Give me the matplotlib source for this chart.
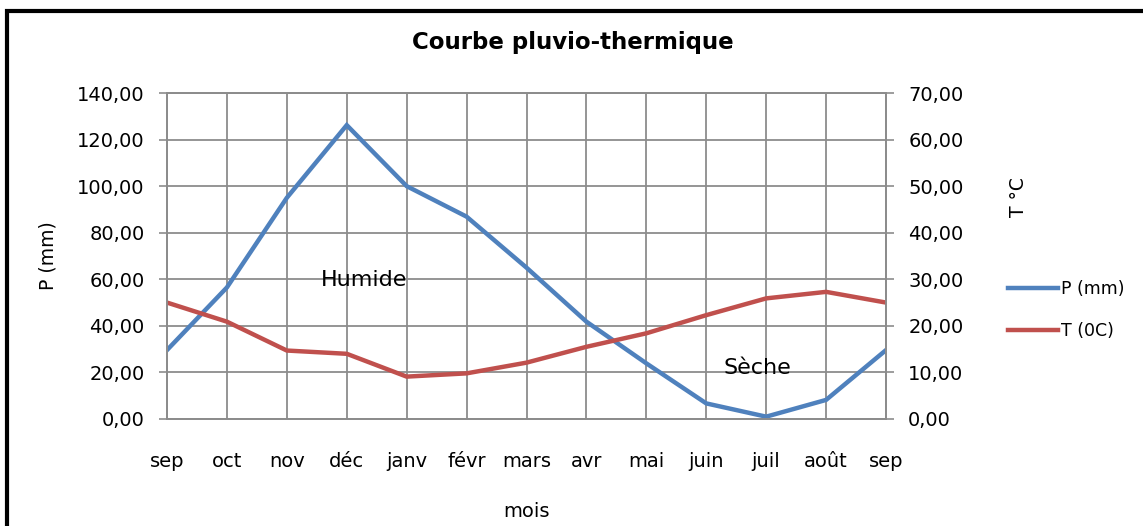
import matplotlib
matplotlib.use("Agg")
import matplotlib.pyplot as plt
from matplotlib.patches import Rectangle
from matplotlib.ticker import MultipleLocator, FuncFormatter

plt.rcParams['font.family'] = ['DejaVu Sans']

mois = ['sep', 'oct', 'nov', 'déc', 'janv', 'févr', 'mars', 'avr',
        'mai', 'juin', 'juil', 'août', 'sep']
P_mm = [29.6, 56.5, 95.0, 126.2, 100.0, 86.9, 65.0, 41.8, 23.9, 6.7, 1.0, 8.2, 29.6]
T_C = [25.0, 20.9, 14.7, 14.0, 9.1, 9.8, 12.1, 15.5, 18.4, 22.3, 25.9, 27.3, 25.0]

blue = '#4F81BD'
red = '#C0504D'
grey = '#8C8C8C'

fig = plt.figure(figsize=(11.43, 5.26), dpi=100)
ax = fig.add_axes([167/1143, 107/526, 719/1143, 326/526])
ax2 = ax.twinx()

x = list(range(len(mois)))
l1, = ax.plot(x, P_mm, color=blue, lw=3.2, label='P (mm)', solid_joinstyle='miter')
l2, = ax2.plot(x, T_C, color=red, lw=3.2, label='T (0C)', solid_joinstyle='miter')

ax.set_xlim(0, len(mois) - 1)
ax.set_ylim(0, 140)
ax2.set_ylim(0, 70)
ax.yaxis.set_major_locator(MultipleLocator(20))
ax2.yaxis.set_major_locator(MultipleLocator(10))
fmt = FuncFormatter(lambda v, p: f"{v:.2f}".replace('.', ','))
ax.yaxis.set_major_formatter(fmt)
ax2.yaxis.set_major_formatter(fmt)

ax.set_xticks(x)
ax.set_xticklabels(mois)
ax.tick_params(axis='x', length=0, pad=24, labelsize=14)
ax.tick_params(axis='y', length=6, width=1.2, color=grey, pad=10, labelsize=14)
ax2.tick_params(axis='y', length=6, width=1.2, color=grey, pad=10, labelsize=14)

ax.grid(True, color=grey, lw=1.3)
ax.set_axisbelow(True)
for a in (ax, ax2):
    for s in a.spines.values():
        s.set_color(grey)
        s.set_linewidth(1.3)

ax.set_ylabel('P (mm)', fontsize=13.5, labelpad=14)
ax.set_xlabel('mois', fontsize=14, labelpad=22)
fig.text(1019/1143, 1 - 197/526, 'T °C', rotation=90, fontsize=13.5,
         ha='center', va='center')

fig.text(573/1143, 1 - 43/526, 'Courbe pluvio-thermique', fontsize=16.5,
         fontweight='bold', ha='center', va='center')

ax.text(3.29, 59.7, 'Humide', fontsize=16, ha='center', va='center')
ax.text(9.85, 21.9, 'Sèche', fontsize=16, ha='center', va='center')

fig.legend(handles=[l1, l2], loc='center left',
           bbox_to_anchor=(992/1143, 1 - 310/526), frameon=False,
           fontsize=12.5, handlelength=2.9, handletextpad=0.15,
           labelspacing=1.4)

fig.add_artist(Rectangle((7/1143, -0.2), 1.2, 1.2 - 11/526,
                         transform=fig.transFigure, fill=False,
                         edgecolor='black', lw=3, clip_on=False))

fig.savefig('out.png', dpi=100)
